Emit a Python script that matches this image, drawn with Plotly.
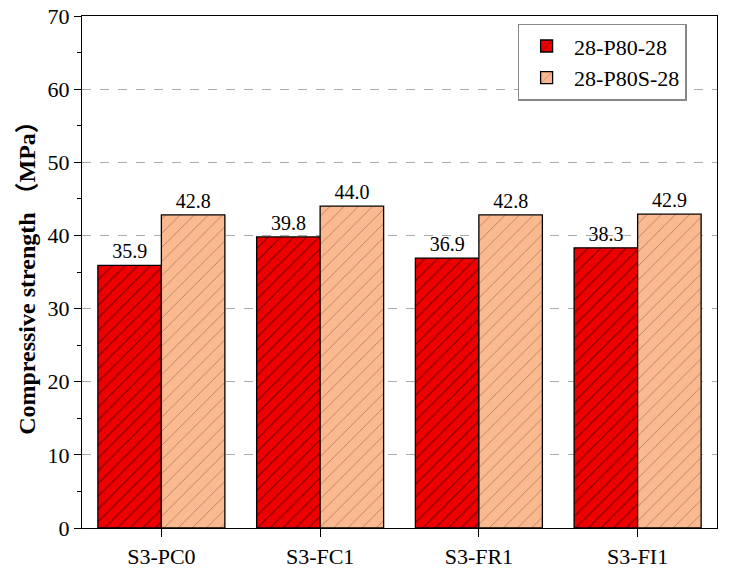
import plotly.graph_objects as go

categorias = ['S3-PC0', 'S3-FC1', 'S3-FR1', 'S3-FI1']
p80 = [35.9, 39.8, 36.9, 38.3]
p80s = [42.8, 44.0, 42.8, 42.9]

fonte = 'Liberation Serif, Times New Roman, serif'
cjk = "font-family:'Noto Sans CJK SC'"

fig = go.Figure()
fig.add_trace(go.Bar(
    x=categorias, y=p80, name='28-P80-28',
    marker=dict(color='#ee0000', line=dict(color='black', width=1.3),
                pattern=dict(shape='/', fgcolor='black', size=9, solidity=0.12)),
    text=[f'{v:.1f}' for v in p80], textposition='outside', constraintext='none',
    textfont=dict(size=20, color='black', family=fonte), cliponaxis=False
))
fig.add_trace(go.Bar(
    x=categorias, y=p80s, name='28-P80S-28',
    marker=dict(color='#fbb98f', line=dict(color='black', width=1.3),
                pattern=dict(shape='/', fgcolor='#5a3a28', size=10, solidity=0.08)),
    text=[f'{v:.1f}' for v in p80s], textposition='outside', constraintext='none',
    textfont=dict(size=20, color='black', family=fonte), cliponaxis=False
))

titulo_y = (f'<b>Compressive strength <span style="{cjk}">（</span>MPa'
            f'<span style="{cjk}">）</span></b>')

fig.update_layout(
    width=732, height=578,
    margin=dict(l=82, r=15, t=16, b=50),
    plot_bgcolor='white', paper_bgcolor='white',
    font=dict(family=fonte, size=20, color='black'),
    barmode='group', bargap=0.2, bargroupgap=0,
    legend=dict(x=0.686, y=0.985, xanchor='left', yanchor='top',
                bordercolor='#888888', borderwidth=1.5, bgcolor='white',
                font=dict(size=22, family=fonte), tracegroupgap=0, itemwidth=45),
    showlegend=True,
)
fig.update_yaxes(
    range=[0, 70], dtick=10, showline=True, linecolor='black', linewidth=1.3,
    mirror=True, ticks='outside', ticklen=7, tickcolor='black', automargin=False,
    showgrid=True, gridcolor='#aaaaaa', griddash='dash', gridwidth=1,
    minor=dict(dtick=5, ticks='outside', ticklen=4, tickcolor='black', showgrid=False),
    zeroline=False,
    title=dict(text=titulo_y, font=dict(size=24, family=fonte), standoff=5),
    tickfont=dict(size=22),
)
fig.update_xaxes(
    showline=True, linecolor='black', linewidth=1.3, mirror=True, automargin=False,
    ticks='outside', ticklen=8, tickcolor='black', tickson='labels',
    tickfont=dict(size=22),
)

fig.write_html('out.html', config={'displayModeBar': False},
               post_script="document.body.style.margin='0';")
